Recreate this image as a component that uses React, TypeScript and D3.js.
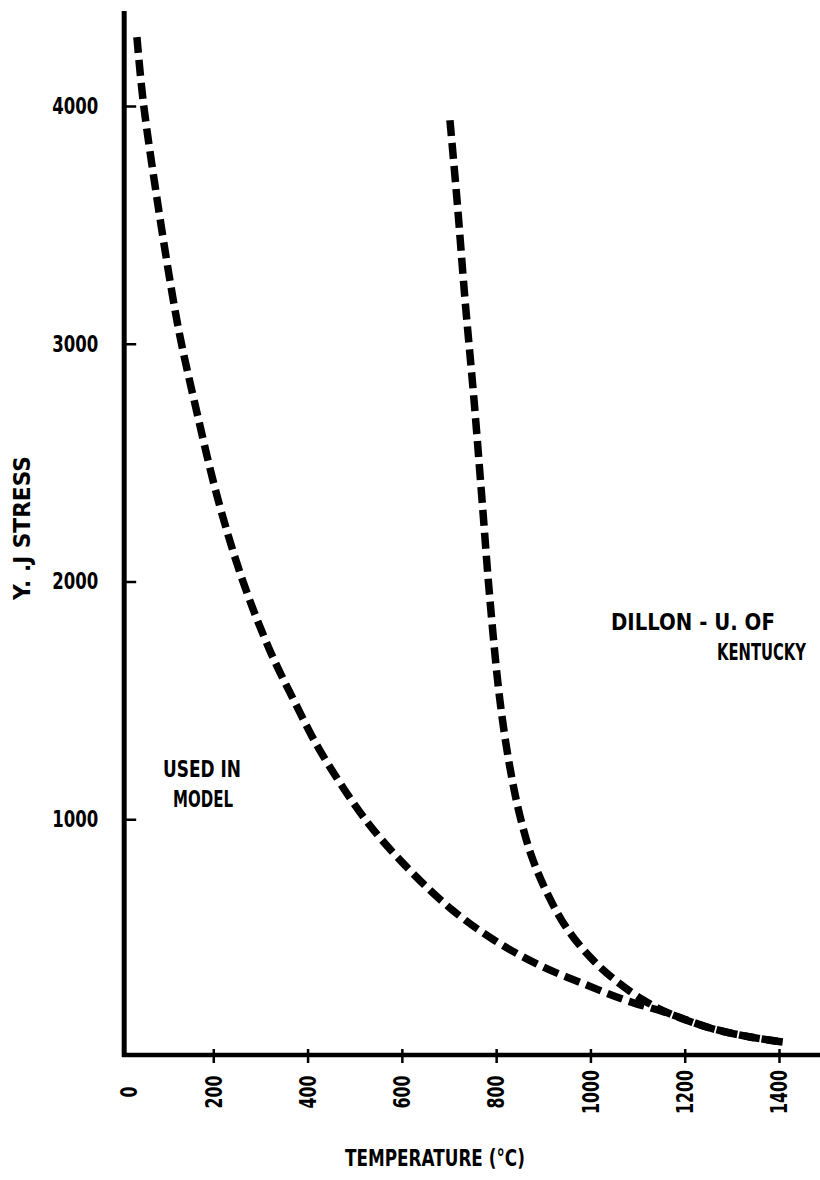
import { useEffect, useRef } from 'react';
import { select, scaleLinear, line, curveCatmullRom, axisLeft, axisBottom } from 'd3';

// curves: temperature (°C) vs yield stress
const modelTemp = [38, 51, 81, 115, 132, 159, 210, 263, 320, 371, 426, 526, 617, 706, 797, 893, 989, 1073, 1163, 1254, 1339, 1409];
const modelStress = [4290, 4025, 3605, 3185, 3005, 2765, 2345, 2000, 1710, 1500, 1290, 990, 785, 620, 490, 385, 305, 240, 185, 122, 84, 63];

const dillonTemp = [702, 717, 734, 753, 770, 787, 808, 829, 851, 876, 908, 948, 999, 1052, 1112, 1165, 1254, 1339, 1409];
const dillonStress = [3940, 3605, 3185, 2765, 2345, 1920, 1500, 1220, 1010, 840, 690, 547, 421, 324, 240, 185, 122, 84, 63];

const xTicks = [0, 200, 400, 600, 800, 1000, 1200, 1400];
const yTicks = [1000, 2000, 3000, 4000];

const FONT = '"DejaVu Sans", sans-serif';

type Pt = { t: number; s: number };

export default function App() {
  const svgRef = useRef<SVGSVGElement | null>(null);

  useEffect(() => {
    document.body.style.margin = '0';
    if (!svgRef.current) return;
    const svg = select(svgRef.current);
    svg.selectAll('*').remove();

    const width = 820;
    const height = 1180;

    const x = scaleLinear().domain([0, 1400]).range([119, 779]);
    const y = scaleLinear().domain([0, 4000]).range([1057, 106]);
    const axisX = x(11);
    const axisY = y(0) - 2;

    svg.attr('viewBox', `0 0 ${width} ${height}`);
    svg.append('rect').attr('width', width).attr('height', height).attr('fill', '#fff');

    // y axis ticks (crossing the axis line)
    const yAxis = svg
      .append('g')
      .attr('transform', `translate(${axisX},0)`)
      .call(axisLeft(y).tickValues(yTicks).tickSize(10).tickPadding(16).tickFormat((v) => String(v)));
    yAxis.select('.domain').remove();
    yAxis.selectAll('.tick line').attr('x2', 12).attr('stroke', '#000').attr('stroke-width', 2.5);
    yAxis
      .selectAll<SVGTextElement, number>('.tick text')
      .attr('font-family', FONT)
      .attr('font-weight', 'bold')
      .attr('font-size', 23)
      .attr('textLength', 46)
      .attr('lengthAdjust', 'spacingAndGlyphs')
      .attr('fill', '#000');

    // x axis ticks
    const xAxis = svg
      .append('g')
      .attr('transform', `translate(0,${axisY})`)
      .call(axisBottom(x).tickValues(xTicks.filter((v) => v > 0)).tickSize(8).tickFormat(() => ''));
    xAxis.select('.domain').remove();
    xAxis.selectAll('.tick line').attr('y1', -6).attr('stroke', '#000').attr('stroke-width', 2.5);

    svg
      .append('g')
      .selectAll('text')
      .data(xTicks)
      .join('text')
      .attr('transform', (v) => `translate(${Math.max(x(v), axisX + 5)},${axisY + 37}) rotate(-90)`)
      .attr('text-anchor', 'middle')
      .attr('dy', '0.36em')
      .attr('font-family', FONT)
      .attr('font-weight', 'bold')
      .attr('font-size', 23)
      .attr('textLength', (v) => String(v).length * 11)
      .attr('lengthAdjust', 'spacingAndGlyphs')
      .text((v) => String(v));

    // axis lines
    svg
      .append('line')
      .attr('x1', axisX)
      .attr('x2', axisX)
      .attr('y1', y(4400))
      .attr('y2', axisY + 2)
      .attr('stroke', '#000')
      .attr('stroke-width', 5);
    svg
      .append('line')
      .attr('x1', axisX - 2)
      .attr('x2', width)
      .attr('y1', axisY)
      .attr('y2', axisY)
      .attr('stroke', '#000')
      .attr('stroke-width', 4.5);

    // curves
    const path = line<Pt>()
      .x((d) => x(d.t))
      .y((d) => y(d.s))
      .curve(curveCatmullRom.alpha(0.5));

    const model: Pt[] = modelTemp.map((t, i) => ({ t, s: modelStress[i] }));
    const dillon: Pt[] = dillonTemp.map((t, i) => ({ t, s: dillonStress[i] }));

    [model, dillon].forEach((d) => {
      svg
        .append('path')
        .datum(d)
        .attr('d', path)
        .attr('fill', 'none')
        .attr('stroke', '#000')
        .attr('stroke-width', 7.5)
        .attr('stroke-dasharray', '16 7');
    });

    // labels: squeezed horizontally to the condensed typewriter look
    const label = (txt: string, px: number, py: number, len: number, rotate = 0) => {
      const g = svg.append('g');
      const t = g
        .append('text')
        .attr('font-family', FONT)
        .attr('font-weight', 'bold')
        .attr('font-size', 23)
        .text(txt);
      const natural = (t.node() as SVGTextElement).getComputedTextLength() || len;
      g.attr('transform', `translate(${px},${py}) rotate(${rotate}) scale(${len / natural},1)`);
    };

    label('USED IN', 163, 777, 78);
    label('MODEL', 173, 807, 60);
    label('DILLON - U. OF', 611, 630, 164);
    label('KENTUCKY', 717, 660, 89);
    label('TEMPERATURE (°C)', 345, 1166, 180);
    label('Y. .J STRESS', 30, 600, 144, -90);
  }, []);

  return <svg ref={svgRef} width={820} height={1180} style={{ display: 'block' }} role="img" aria-label="Yield stress vs temperature" />;
}
